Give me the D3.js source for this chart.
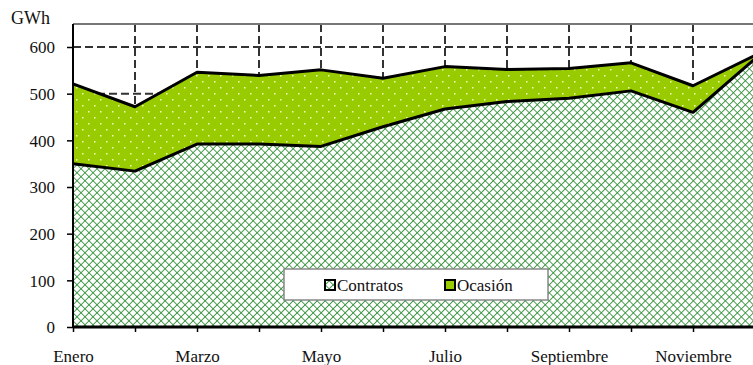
<!DOCTYPE html>
<html>
<head>
<meta charset="utf-8">
<script src="https://cdn.jsdelivr.net/npm/d3@7"></script>
<style>
  html, body { margin: 0; padding: 0; background: #fff; }
  svg { display: block; }
  svg text { font-family: 'Liberation Serif', 'Times New Roman', serif !important; fill: #111; }
</style>
</head>
<body>
<svg id="chart" width="753" height="365"></svg>
<script>
// Monthly energy, GWh
const months = ["Enero", "Febrero", "Marzo", "Abril", "Mayo", "Junio",
                "Julio", "Agosto", "Septiembre", "Octubre", "Noviembre", "Diciembre"];
const contratos = [350, 334, 392, 392, 387, 429, 467, 483, 490, 506, 460, 575];
const ocasion   = [171, 138, 154, 147, 164, 104, 91, 69, 64, 60, 57, 7];
const yTicks = [0, 100, 200, 300, 400, 500, 600];
const xLabels = ["Enero", "Marzo", "Mayo", "Julio", "Septiembre", "Noviembre"];
const seriesNames = ["Contratos", "Ocasión"];

const svg = d3.select("#chart");
const plotLeft = 73, plotTop = 24, plotBottom = 327;
const serif = "'Liberation Serif', 'Times New Roman', serif";

const x = d3.scalePoint().domain(months).range([plotLeft, 755]);
const y = d3.scaleLinear().domain([0, 600]).range([plotBottom, 47]);

const rows = months.map((m, i) => ({ month: m, Contratos: contratos[i], "Ocasión": ocasion[i] }));
const stacked = d3.stack().keys(seriesNames)(rows);

// Fill patterns: green lattice on white, light dots on yellow-green
const defs = svg.append("defs");
const hatch = defs.append("pattern")
  .attr("id", "hatch").attr("patternUnits", "userSpaceOnUse")
  .attr("width", 5.66).attr("height", 5.66)
  .attr("patternTransform", "translate(" + plotLeft + ",0) rotate(45)");
hatch.append("rect").attr("width", 5.66).attr("height", 5.66).attr("fill", "#ffffff");
hatch.append("rect").attr("width", 5.66).attr("height", 0.85).attr("fill", "#2f8f36");
hatch.append("rect").attr("width", 0.85).attr("height", 5.66).attr("fill", "#2f8f36");

const dots = defs.append("pattern")
  .attr("id", "dots").attr("patternUnits", "userSpaceOnUse")
  .attr("width", 12).attr("height", 12)
  .attr("patternTransform", "translate(" + plotLeft + ",0)");
dots.append("rect").attr("width", 12).attr("height", 12).attr("fill", "#99cc00");
[[3, 3], [9, 9]].forEach(([cx, cy]) => dots.append("rect").attr("x", cx).attr("y", cy)
    .attr("width", 1.5).attr("height", 1.5).attr("fill", "#f0ffb8"));

const fills = { "Contratos": "url(#hatch)", "Ocasión": "url(#dots)" };

// Gridlines
const grid = svg.append("g").attr("stroke", "#333").attr("stroke-width", 2)
  .attr("stroke-dasharray", "8,4");
yTicks.filter(t => t > 0).forEach(t => {
  grid.append("line").attr("x1", plotLeft).attr("x2", 753)
    .attr("y1", y(t)).attr("y2", y(t));
});
months.slice(1).forEach(m => {
  grid.append("line").attr("x1", x(m)).attr("x2", x(m))
    .attr("y1", plotTop).attr("y2", plotBottom);
});

// Plot frame top edge
svg.append("line").attr("x1", plotLeft).attr("x2", 753).attr("y1", plotTop).attr("y2", plotTop)
  .attr("stroke", "#777").attr("stroke-width", 2);

// Stacked areas
const area = d3.area().x(d => x(d.data.month)).y0(d => y(d[0])).y1(d => y(d[1]));
svg.append("g").selectAll("path").data(stacked).join("path")
  .attr("d", area).attr("fill", d => fills[d.key]);

const topLine = d3.line().x(d => x(d.data.month)).y(d => y(d[1]));
svg.append("g").selectAll("path").data(stacked).join("path")
  .attr("d", topLine).attr("fill", "none").attr("stroke", "#000")
  .attr("stroke-width", 3).attr("stroke-linejoin", "round");

// Y axis
const yAxis = svg.append("g").attr("transform", "translate(" + plotLeft + ",0)")
  .call(d3.axisLeft(y).tickValues(yTicks).tickSize(6).tickPadding(12));
yAxis.attr("font-family", serif).attr("font-size", 17);
yAxis.select(".domain").attr("d", "M0," + plotTop + "V" + plotBottom).attr("stroke", "#000").attr("stroke-width", 2);
yAxis.selectAll(".tick line").attr("stroke", "#000").attr("stroke-width", 1.5);
yAxis.selectAll(".tick text").attr("fill", "#111").attr("dy", "0.34em");

// X axis
const xAxis = svg.append("g").attr("transform", "translate(0," + plotBottom + ")")
  .call(d3.axisBottom(x).tickSize(5)
    .tickFormat(m => xLabels.includes(m) ? m : ""));
xAxis.attr("font-family", serif).attr("font-size", 17);
xAxis.select(".domain").attr("d", "M" + plotLeft + ",0H753").attr("stroke", "#000").attr("stroke-width", 3);
xAxis.selectAll(".tick line").attr("stroke", "#000").attr("stroke-width", 1.5);
xAxis.selectAll(".tick text").attr("fill", "#111").attr("y", 35).attr("dy", null);

// Unit label
svg.append("text").attr("x", 11).attr("y", 24).attr("font-size", 18).text("GWh");

// Legend
const legend = svg.append("g").attr("font-size", 17);
legend.append("rect").attr("x", 284).attr("y", 269).attr("width", 264).attr("height", 31)
  .attr("fill", "#fff").attr("stroke", "#888").attr("stroke-width", 1.5);
const legendX = [325, 445];
seriesNames.forEach((name, i) => {
  legend.append("rect").attr("x", legendX[i]).attr("y", 280).attr("width", 10).attr("height", 10)
    .attr("fill", fills[name]).attr("stroke", "#000").attr("stroke-width", 2);
  legend.append("text").attr("x", legendX[i] + 12).attr("y", 291).text(name);
});
</script>
</body>
</html>
